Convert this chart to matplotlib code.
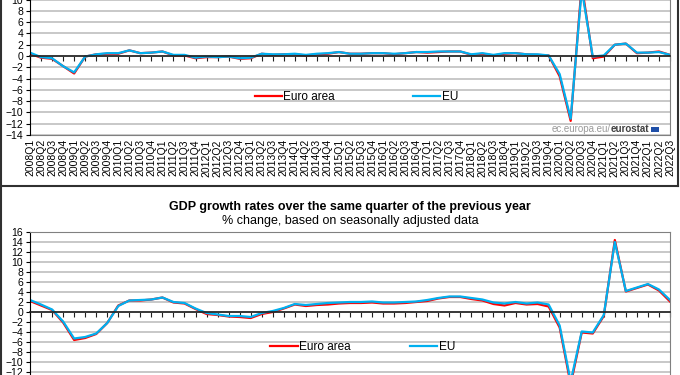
import matplotlib.pyplot as plt
from matplotlib.patches import Rectangle
import numpy as np

plt.rcParams['font.family'] = ['Liberation Sans', 'DejaVu Sans']

years = list(range(2008, 2023))
quarters = [f"{y}Q{q}" for y in years for q in range(1, 5)][:-1]  # 2008Q1 .. 2022Q3

# quarter-on-quarter growth, %
ea_qoq = [0.4, -0.3, -0.5, -1.8,
          -3.1, -0.1, 0.3, 0.4,
          0.4, 1.0, 0.5, 0.6,
          0.8, 0.1, 0.1, -0.4,
          -0.2, -0.2, -0.1, -0.5,
          -0.4, 0.4, 0.2, 0.3,
          0.3, 0.1, 0.3, 0.4,
          0.7, 0.4, 0.4, 0.5,
          0.5, 0.3, 0.5, 0.7,
          0.6, 0.7, 0.8, 0.8,
          0.2, 0.4, 0.1, 0.4,
          0.5, 0.3, 0.2, 0.1,
          -3.6, -11.5, 12.6, -0.4,
          -0.1, 2.0, 2.2, 0.5,
          0.6, 0.8, 0.2]
eu_qoq = [0.6, -0.2, -0.4, -1.8,
          -2.9, -0.1, 0.3, 0.5,
          0.5, 1.0, 0.5, 0.6,
          0.8, 0.2, 0.2, -0.3,
          -0.1, -0.2, -0.1, -0.4,
          -0.3, 0.4, 0.3, 0.3,
          0.4, 0.2, 0.4, 0.5,
          0.7, 0.4, 0.4, 0.5,
          0.5, 0.4, 0.5, 0.7,
          0.7, 0.8, 0.8, 0.8,
          0.3, 0.5, 0.2, 0.5,
          0.5, 0.3, 0.3, 0.1,
          -3.2, -11.1, 11.8, -0.1,
          0.1, 2.0, 2.2, 0.6,
          0.6, 0.7, 0.2]

# growth over the same quarter of the previous year, %
ea_yoy = [2.2, 1.3, 0.4, -2.1,
          -5.6, -5.2, -4.4, -2.2,
          1.3, 2.3, 2.3, 2.5,
          2.9, 1.9, 1.7, 0.6,
          -0.4, -0.6, -0.9, -1.0,
          -1.2, -0.4, 0.0, 0.7,
          1.5, 1.2, 1.4, 1.5,
          1.7, 1.8, 1.8, 1.9,
          1.7, 1.7, 1.8, 2.0,
          2.2, 2.7, 3.0, 3.0,
          2.6, 2.3, 1.6, 1.3,
          1.8, 1.5, 1.6, 1.1,
          -3.1, -14.5, -4.1, -4.3,
          -0.8, 14.4, 4.1, 4.8,
          5.5, 4.3, 2.1]
eu_yoy = [2.4, 1.5, 0.5, -1.9,
          -5.3, -5.0, -4.3, -2.2,
          1.2, 2.3, 2.4, 2.5,
          2.9, 2.0, 1.8, 0.7,
          -0.2, -0.5, -0.8, -0.8,
          -1.0, -0.2, 0.2, 0.8,
          1.6, 1.4, 1.6, 1.8,
          1.9, 2.0, 2.0, 2.1,
          1.9, 1.9, 2.0, 2.1,
          2.4, 2.8, 3.1, 3.1,
          2.8, 2.5, 1.9, 1.7,
          2.0, 1.7, 1.9, 1.5,
          -2.7, -13.9, -3.9, -4.1,
          -0.6, 14.0, 4.2, 4.9,
          5.6, 4.5, 2.4]

RED = '#ff0000'
BLUE = '#00b0f0'
GRID = '#c4c4c4'
FRAME = '#808080'

x = np.arange(len(quarters))

fig = plt.figure(figsize=(6.8, 3.75), dpi=100)


def style_axes(ax, ylo, yhi, tick_lo, tick_hi, show_labels):
    ax.set_xlim(0, len(quarters) - 1)
    ax.set_ylim(ylo, yhi)
    # grid over the whole range, labels only where the picture shows them
    ax.set_yticks(np.arange(ylo, yhi + 1, 2), minor=True)
    ax.set_yticks(np.arange(tick_lo, tick_hi + 1, 2))
    ax.yaxis.grid(True, which='both', color=GRID, linewidth=1.3)
    ax.set_axisbelow(True)
    ax.tick_params(axis='y', which='both', direction='out', length=3,
                   labelsize=7.5, pad=2, color='black')
    for s in ['top', 'right']:
        ax.spines[s].set_color(FRAME)
    ax.spines['left'].set_color('black')
    # category axis drawn on the zero line, labels kept at the bottom
    ax.spines['bottom'].set_position(('data', 0))
    ax.spines['bottom'].set_color('#202020')
    ax.spines['bottom'].set_linewidth(1.2)
    ax.set_xticks(x)
    ax.tick_params(axis='x', direction='out', length=3.5, labelbottom=False,
                   color='#202020')
    sec = ax.secondary_xaxis('bottom')
    sec.spines['bottom'].set_color(FRAME)
    sec.tick_params(axis='x', length=0, pad=3)
    if show_labels:
        sec.set_xticks(x, quarters, rotation=90, fontsize=7.5)
    else:
        sec.set_xticks([])


def legend(ax, x0, y0, spacing):
    ax.legend(ncol=2, loc='center', bbox_to_anchor=(x0, y0), frameon=False,
              fontsize=8.5, handlelength=2.3, handletextpad=0.15,
              columnspacing=spacing)


# top panel: quarter-on-quarter growth (cut off above the picture)
ax1 = fig.add_axes([30 / 680, 240 / 375, 640 / 680, 158 / 375])
ax1.plot(x, ea_qoq, color=RED, linewidth=1.6, label='Euro area')
ax1.plot(x, eu_qoq, color=BLUE, linewidth=1.6, label='EU')
style_axes(ax1, -14, 14, -14, 10, True)
legend(ax1, 0.51, 0.24, 6.6)

wm = ax1.text(0.968, 0.035, 'eurostat', transform=ax1.transAxes, ha='right',
              va='center', fontsize=7, fontweight='bold', color='#404040')
ax1.annotate('ec.europa.eu/', xy=(0, 0.5), xycoords=wm, ha='right',
             va='center', fontsize=7, color='#9a9a9a')
ax1.add_patch(Rectangle((0.971, 0.022), 0.012, 0.026, transform=ax1.transAxes,
                        facecolor='#1f4fa8', edgecolor='none'))

# bottom panel: year-on-year growth (cut off below the picture)
ax2 = fig.add_axes([30 / 680, -17 / 375, 640 / 680, 160 / 375])
ax2.plot(x, ea_yoy, color=RED, linewidth=1.6, label='Euro area')
ax2.plot(x, eu_yoy, color=BLUE, linewidth=1.6, label='EU')
style_axes(ax2, -16, 16, -12, 16, False)
legend(ax2, 0.52, 0.28, 5.0)

fig.text(0.515, 0.448, 'GDP growth rates over the same quarter of the previous year',
         ha='center', va='center', fontsize=9, fontweight='bold')
fig.text(0.515, 0.41, '% change, based on seasonally adjusted data',
         ha='center', va='center', fontsize=9)

# frames of the two chart boxes
fig.add_artist(plt.Line2D([1 / 680, 1 / 680], [0, 1], color='#303030', linewidth=1.5))
fig.add_artist(plt.Line2D([678 / 680, 678 / 680], [189 / 375, 1], color='#303030',
                          linewidth=1.5))
fig.add_artist(plt.Line2D([0, 678 / 680], [189 / 375, 189 / 375], color='#303030',
                          linewidth=1.5))

fig.savefig('out.png', dpi=100)
